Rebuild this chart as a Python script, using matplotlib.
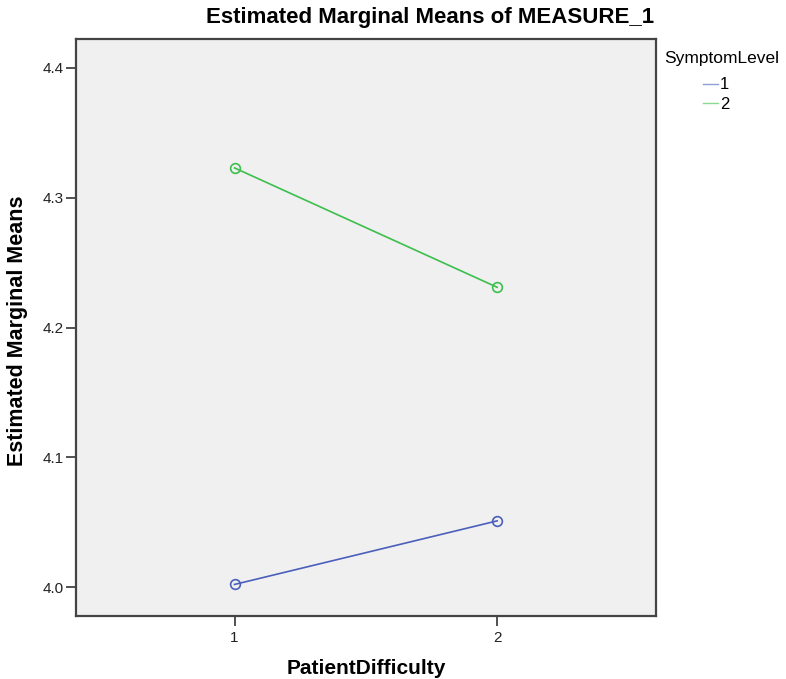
import matplotlib
matplotlib.use("Agg")
import matplotlib.pyplot as plt

# 数据
difficulty = [1, 2]
symptom_levels = ["1", "2"]
means_level1 = [4.002, 4.051]
means_level2 = [4.323, 4.231]
series_colors = ["#4a5fbb", "#3cbf4c"]

plt.rcParams["font.family"] = ["Liberation Sans Narrow", "Liberation Sans", "DejaVu Sans"]

fig = plt.figure(figsize=(7.86, 6.79), dpi=100)
ax = fig.add_axes([0.0962, 0.0928, 0.7385, 0.8493])
ax.set_facecolor("#f0f0f0")

for label, vals, col in zip(symptom_levels, [means_level1, means_level2], series_colors):
    ax.plot(difficulty, vals, color=col, lw=1.2, marker="o", ms=7,
            mfc="none", mec=col, mew=1.2, label=label)

ax.set_xlim(0.395, 2.605)
ax.set_ylim(3.9777, 4.4221)
ax.set_xticks(difficulty)
ax.set_xticklabels(["1", "2"])
ax.set_yticks([4.0, 4.1, 4.2, 4.3, 4.4])
ax.set_yticklabels(["4.0", "4.1", "4.2", "4.3", "4.4"])
ax.tick_params(axis="both", direction="out", length=7, width=1.2,
               colors="#333333", labelsize=11, labelcolor="#222222")
ax.tick_params(axis="y", pad=1.5)
ax.tick_params(axis="x", pad=4)
for sp in ax.spines.values():
    sp.set_color("#444444")
    sp.set_linewidth(1.6)

ax.set_xlabel("PatientDifficulty", fontsize=15, fontweight="bold")
ax.xaxis.set_label_coords(0.5, -0.075)
ax.set_ylabel("Estimated Marginal Means", fontsize=15.5, fontweight="bold")
ax.yaxis.set_label_coords(-0.082, 0.495)
fig.text(0.547, 0.974, "Estimated Marginal Means of MEASURE_1", ha="center", va="center",
         fontsize=16, fontweight="bold")

# 图例
fig.text(664 / 786, 1 - 58 / 679, "SymptomLevel", ha="left", va="center", fontsize=12.5)
leg = ax.legend(loc="upper left", bbox_to_anchor=(0.894, 0.886),
                bbox_transform=fig.transFigure, frameon=False, fontsize=12,
                handlelength=0.9, handletextpad=0.15, labelspacing=0.25,
                borderpad=0, borderaxespad=0)
for h in leg.legend_handles:
    h.set_marker("")
    h.set_linewidth(1.0)
    h.set_alpha(0.6)

fig.savefig("out.png", dpi=100)
